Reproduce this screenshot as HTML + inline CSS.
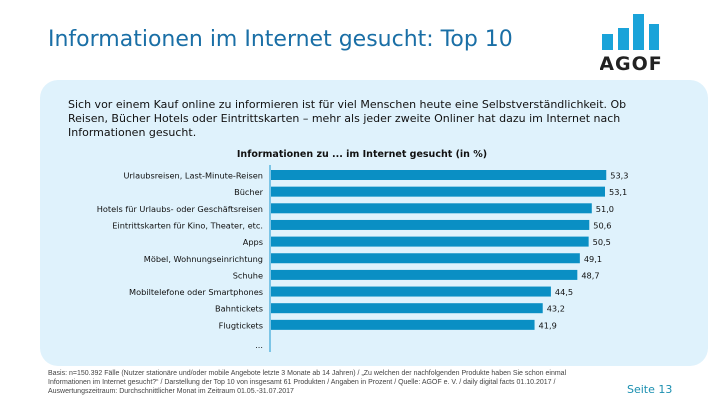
<!DOCTYPE html>
<html><head><meta charset="utf-8"><style>
body{margin:0;width:720px;height:405px;background:#fff;font-family:"DejaVu Sans","Liberation Sans",sans-serif;position:relative;overflow:hidden}
.abs{position:absolute}
</style></head><body>
<div class="abs" style="left:48px;top:27px;font-size:22px;color:#1a6fa6;white-space:nowrap">Informationen im Internet gesucht: Top 10</div>
<svg class="abs" style="left:600px;top:12px" width="64" height="62">
<rect x="2" y="22" width="11" height="16" fill="#1aa3d9"/><rect x="18" y="16" width="11" height="22" fill="#1aa3d9"/><rect x="33" y="2" width="11" height="36" fill="#1aa3d9"/><rect x="49" y="12" width="10" height="26" fill="#1aa3d9"/>
<text x="31" y="58" text-anchor="middle" font-size="19" font-weight="bold" fill="#222" font-family="DejaVu Sans" letter-spacing="1">AGOF</text></svg>
<div class="abs" style="left:40px;top:80px;width:668px;height:286px;background:#dff2fc;border-radius:18px"></div>
<div class="abs" style="left:68px;top:98px;width:572px;font-size:11px;line-height:14px;color:#111">Sich vor einem Kauf online zu informieren ist für viel Menschen heute eine Selbstverständlichkeit. Ob Reisen, Bücher Hotels oder Eintrittskarten – mehr als jeder zweite Onliner hat dazu im Internet nach Informationen gesucht.</div>
<svg class="abs" id="chart" style="left:0;top:0" width="720" height="405"></svg>
<div class="abs" style="left:48px;top:369px;width:540px;font-size:7px;line-height:9px;color:#444;font-family:'Liberation Sans',sans-serif">Basis: n=150.392 Fälle (Nutzer stationäre und/oder mobile Angebote letzte 3 Monate ab 14 Jahren) / „Zu welchen der nachfolgenden Produkte haben Sie schon einmal Informationen im Internet gesucht?“ / Darstellung der Top 10 von insgesamt 61 Produkten / Angaben in Prozent / Quelle: AGOF e. V. / daily digital facts 01.10.2017 / Auswertungszeitraum: Durchschnittlicher Monat im Zeitraum 01.05.-31.07.2017</div>
<div class="abs" style="left:627px;top:383px;font-size:11px;color:#1a8fb0">Seite 13</div>
<script>
const categories=["Urlaubsreisen, Last-Minute-Reisen","Bücher","Hotels für Urlaubs- oder Geschäftsreisen","Eintrittskarten für Kino, Theater, etc.","Apps","Möbel, Wohnungseinrichtung","Schuhe","Mobiltelefone oder Smartphones","Bahntickets","Flugtickets"];
const values=[53.3,53.1,51.0,50.6,50.5,49.1,48.7,44.5,43.2,41.9];
const labels=["53,3","53,1","51,0","50,6","50,5","49,1","48,7","44,5","43,2","41,9"];
const svg=document.getElementById('chart');const NS='http://www.w3.org/2000/svg';
const x0=271,k=6.29;const xs=v=>x0+v*k;const ys=i=>170+i*16.65;
function mk(t,a){const e=document.createElementNS(NS,t);for(const n in a)e.setAttribute(n,a[n]);svg.appendChild(e);return e;}
let t=mk('text',{x:362,y:157,'text-anchor':'middle','font-size':'9.5','font-weight':'bold',fill:'#111'});t.textContent='Informationen zu ... im Internet gesucht (in %)';


categories.forEach((c,i)=>{
const r=mk('rect',{x:x0,y:ys(i),width:xs(values[i])-x0,height:10,fill:'#0a8fc4'});


const l=mk('text',{x:263,y:ys(i)+8.5,'text-anchor':'end','font-size':'8.2',fill:'#111'});l.textContent=c;


const v=mk('text',{x:xs(values[i])+4,y:ys(i)+8.5,'font-size':'8.2',fill:'#111'});v.textContent=labels[i];


});
const ax=mk('line',{x1:x0-1,x2:x0-1,y1:165,y2:352,stroke:'#7cc5e6','stroke-width':2});


const d=mk('text',{x:263,y:348,'text-anchor':'end','font-size':'8.2',fill:'#111'});d.textContent='...';


</script>
</body></html>
